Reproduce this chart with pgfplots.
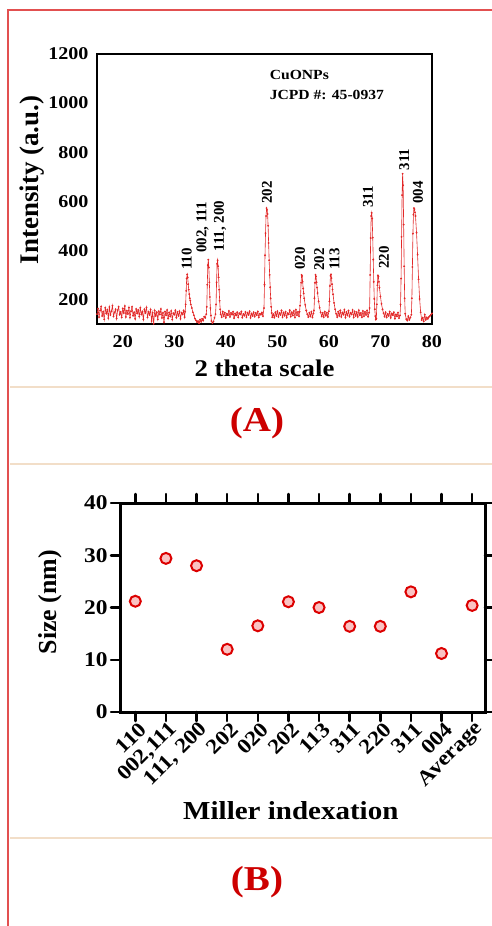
\documentclass[border=0pt]{standalone}
\usepackage{fontspec}
\setmainfont{Liberation Serif}[FakeStretch=1.12]
\newfontfamily\vfont{Liberation Serif}
\usepackage{pgfplots}
\pgfplotsset{compat=1.18}

\definecolor{xrd}{RGB}{226,40,40}
\definecolor{framered}{RGB}{226,80,80}
\definecolor{beige}{RGB}{242,222,200}
\definecolor{mkred}{RGB}{220,0,0}
\definecolor{mkfill}{RGB}{250,195,195}
\definecolor{labred}{RGB}{205,0,0}

\newcommand{\fs}[1]{\fontsize{#1}{#1}\selectfont\bfseries}

\begin{document}
\begin{tikzpicture}
\path[use as bounding box] (0bp,0bp) rectangle (492bp,-926bp);

% panel frame lines
\draw[framered, line width=2bp] (8bp,-926bp) -- (8bp,-10bp) -- (492bp,-10bp);
\draw[beige, line width=1.2bp] (10bp,-387bp) -- (492bp,-387bp);
\draw[beige, line width=1.2bp] (10bp,-464bp) -- (492bp,-464bp);
\draw[beige, line width=1.2bp] (10bp,-838bp) -- (492bp,-838bp);

% (A) XRD pattern
\begin{axis}[
    at={(97bp,-324bp)}, anchor=south west,
    scale only axis, width=335bp, height=270bp,
    xmin=15, xmax=80, ymin=100, ymax=1200,
    xtick={20,30,...,80}, ytick={200,400,...,1200},
    major tick length=0pt,
    axis line style={line width=2bp},
    tick label style={font=\fs{18}},
    xticklabel style={yshift=-8bp},
    yticklabel style={xshift=-5bp},
    /pgf/number format/assume math mode=true,
    /pgf/number format/set thousands separator={},
    xlabel={2 theta scale},
    ylabel={Intensity (a.u.)},
    xlabel style={font=\fs{24}, at={(axis description cs:0.5,-0.163)}, anchor=center},
    ylabel style={font=\vfont\fs{27}, at={(axis description cs:-0.194,0.533)}, anchor=center},
    clip=false
]
\addplot[color=xrd, line width=0.6bp, mark=*, mark size=0.6bp,
    mark options={draw=xrd, fill=xrd}] coordinates {
(15.0,140)(15.2,162)(15.4,128)(15.6,155)(15.8,171)(16.0,133)(16.2,150)(16.4,119)(16.6,166)(16.8,142)
(17.0,158)(17.2,124)(17.4,169)(17.6,137)(17.8,152)(18.0,175)(18.2,131)(18.4,147)(18.6,160)(18.8,122)
(19.0,156)(19.2,170)(19.4,138)(19.6,149)(19.8,127)(20.0,163)(20.2,145)(20.4,173)(20.6,129)(20.8,154)
(21.0,141)(21.2,167)(21.4,126)(21.6,152)(21.8,170)(22.0,134)(22.2,148)(22.4,121)(22.6,161)(22.8,143)
(23.0,157)(23.2,130)(23.4,166)(23.6,139)(23.8,151)(24.0,118)(24.2,160)(24.4,145)(24.6,168)(24.8,127)
(25.0,150)(25.2,137)(25.4,159)(25.6,112)(25.8,146)(26.0,101)(26.2,155)(26.4,133)(26.6,148)(26.8,119)
(27.0,152)(27.2,139)(27.4,161)(27.6,125)(27.8,145)(28.0,108)(28.2,150)(28.4,136)(28.6,157)(28.8,123)
(29.0,147)(29.2,131)(29.4,153)(29.6,118)(29.8,144)(30.0,138)(30.2,156)(30.4,126)(30.6,149)(30.8,133)
(31.0,152)(31.2,121)(31.4,146)(31.6,139)(31.8,155)(32.0,128)
(32.1,150)(32.2,180)(32.3,235)(32.4,285)(32.5,302)(32.6,290)(32.7,262)(32.8,240)(32.9,222)(33.0,205)
(33.1,195)(33.2,180)(33.4,165)(33.6,148)(33.8,136)(34.0,122)(34.2,115)(34.4,108)(34.6,112)(34.8,103)
(35.0,118)(35.2,109)(35.4,121)(35.6,114)(35.8,130)(36.0,125)(36.2,140)(36.3,170)(36.4,260)(36.5,340)
(36.6,362)(36.7,330)(36.8,270)(36.9,210)(37.0,165)(37.1,135)(37.2,112)(37.4,104)(37.6,110)(37.8,125)
(38.0,140)(38.1,180)(38.2,270)(38.3,345)(38.4,360)(38.5,335)(38.6,290)(38.7,240)(38.8,195)(38.9,160)
(39.0,140)(39.2,128)(39.4,150)(39.6,132)(39.8,146)(40.0,125)(40.2,142)(40.4,136)(40.6,153)(40.8,129)
(41.0,145)(41.2,138)(41.4,150)(41.6,124)(41.8,143)(42.0,135)(42.2,148)(42.4,127)(42.6,144)(42.8,139)
(43.0,151)(43.2,126)(43.4,141)(43.6,134)(43.8,149)(44.0,128)(44.2,146)(44.4,137)(44.6,152)(44.8,125)
(45.0,143)(45.2,133)(45.4,148)(45.6,130)(45.8,145)(46.0,136)(46.2,151)(46.4,127)(46.6,142)(46.8,138)
(47.0,147)(47.2,132)(47.4,165)(47.5,260)(47.6,380)(47.7,470)(47.8,540)(47.9,572)(48.0,565)(48.1,548)
(48.2,500)(48.3,430)(48.4,360)(48.5,300)(48.6,250)(48.7,205)(48.8,170)(48.9,145)(49.0,128)
(49.2,140)(49.4,126)(49.6,148)(49.8,133)(50.0,152)(50.2,129)(50.4,145)(50.6,137)(50.8,155)(51.0,128)
(51.2,147)(51.4,134)(51.6,150)(51.8,126)(52.0,144)(52.2,139)(52.4,156)(52.6,130)(52.8,148)(53.0,135)
(53.2,153)(53.4,127)(53.6,158)(53.8,136)(54.0,149)(54.2,132)
(54.3,150)(54.4,175)(54.5,215)(54.6,268)(54.7,300)(54.8,296)(54.9,272)(55.0,245)(55.1,225)(55.2,205)
(55.4,178)(55.6,155)(55.8,140)(56.0,128)(56.2,146)(56.4,131)(56.6,150)(56.8,127)(57.0,143)(57.1,155)
(57.2,205)(57.3,268)(57.4,300)(57.5,294)(57.6,270)(57.7,248)(57.8,226)(58.0,192)(58.2,166)(58.4,147)
(58.6,131)(58.8,145)(59.0,128)(59.2,150)(59.4,134)(59.6,146)(59.8,129)(60.0,152)(60.1,192)(60.2,255)
(60.3,296)(60.4,302)(60.5,287)(60.6,262)(60.7,240)(60.8,221)(61.0,186)(61.2,160)(61.4,142)(61.6,128)
(61.8,150)(62.0,133)(62.2,155)(62.4,129)(62.6,147)(62.8,138)(63.0,158)(63.2,126)(63.4,149)(63.6,135)
(63.8,154)(64.0,130)(64.2,146)(64.4,139)(64.6,157)(64.8,127)(65.0,151)(65.2,133)(65.4,148)(65.6,129)
(65.8,156)(66.0,136)(66.2,145)(66.4,128)(66.6,153)(66.8,132)(67.0,149)(67.2,137)(67.4,155)(67.6,130)
(67.8,146)(67.9,165)(68.0,300)(68.1,450)(68.2,540)(68.3,553)(68.4,530)(68.5,452)(68.6,362)(68.7,272)
(68.8,202)(68.9,160)(69.0,132)(69.1,118)(69.2,122)(69.3,180)(69.4,258)(69.5,298)(69.6,294)(69.7,272)
(69.8,248)(70.0,212)(70.2,182)(70.4,160)(70.6,144)(70.8,130)(71.0,148)(71.2,127)(71.4,141)(71.6,133)
(71.8,150)(72.0,125)(72.2,143)(72.4,136)(72.6,148)(72.8,122)(73.0,139)(73.2,131)(73.4,146)(73.6,124)
(73.8,135)(73.9,180)(74.0,285)(74.1,455)(74.2,625)(74.3,712)(74.4,665)(74.5,505)(74.6,335)(74.7,205)
(74.8,142)(75.0,120)(75.2,114)(75.4,132)(75.6,117)(75.8,126)(76.0,138)(76.1,205)(76.2,332)(76.3,468)
(76.4,545)(76.5,572)(76.6,568)(76.7,555)(76.8,540)(77.0,472)(77.2,382)(77.4,282)(77.6,202)(77.8,148)
(78.0,116)(78.2,126)(78.4,111)(78.6,138)(78.8,117)(79.0,127)(79.2,121)(79.4,129)(79.6,133)(79.8,138)
(80.0,143)
};
% peak labels
\begin{scope}[every node/.style={rotate=90, anchor=west, inner sep=0pt, font=\vfont\fs{15}}]
\node at (axis cs:32.4,320) {110};
\node at (axis cs:35.5,390) {002, 111};
\node at (axis cs:38.9,394) {111, 200};
\node at (axis cs:48.0,590) {202};
\node at (axis cs:54.4,320) {020};
\node at (axis cs:58.1,316) {202};
\node at (axis cs:61.1,320) {113};
\node at (axis cs:67.6,573) {311};
\node at (axis cs:70.7,324) {220};
\node at (axis cs:74.6,725) {311};
\node at (axis cs:77.3,590) {004};
\end{scope}
\node[anchor=base west, inner sep=0pt, font=\fs{14}] at (axis cs:48.5,1096) {CuONPs};
\node[anchor=base west, inner sep=0pt, font=\fs{14}] at (axis cs:48.5,1014) {JCPD \#: 45-0937};
\end{axis}

\node[font=\fs{35}, text=labred] at (257bp,-423bp) {(A)};

% (B) crystallite size
\begin{axis}[
    at={(120bp,-712bp)}, anchor=south west,
    scale only axis, width=365bp, height=209bp,
    xmin=-0.5, xmax=11.42, ymin=0, ymax=40,
    xtick={0,...,11}, ytick={0,10,...,40},
    xticklabels={110,{002,111},{111, 200},202,020,202,113,311,220,311,004,Average},
    tick align=outside, major tick length=9bp,
    every tick/.style={black, line width=2.5bp, line cap=round},
    axis line style={line width=3bp},
    tick label style={font=\fs{21}},
    xticklabel style={rotate=45, anchor=east, inner sep=1bp, xshift=3bp, yshift=-9bp, font=\fs{21}},
    /pgf/number format/assume math mode=true,
    xlabel={Miller indexation},
    ylabel={Size (nm)},
    xlabel style={font=\fs{26}, at={(axis description cs:0.468,-0.474)}, anchor=center},
    ylabel style={font=\vfont\fs{26}, at={(axis description cs:-0.19,0.526)}, anchor=center},
    clip=false
]
\addplot[only marks, mark=*, mark size=5.5bp,
    mark options={draw=mkred, fill=mkfill, line width=2bp}] coordinates {
(0,21.2)(1,29.4)(2,28.0)(3,12.0)(4,16.5)(5,21.1)(6,20.0)(7,16.4)(8,16.4)(9,23.0)(10,11.2)(11,20.4)
};
\end{axis}

\node[font=\fs{35}, text=labred] at (257bp,-882bp) {(B)};
\end{tikzpicture}
\end{document}
